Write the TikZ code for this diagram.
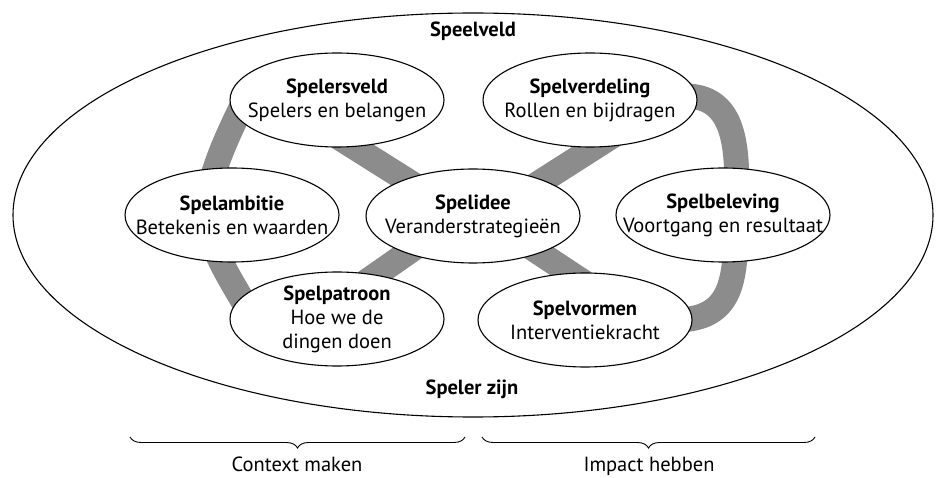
\documentclass[tikz,border=0pt]{standalone}
\usepackage{fontspec}
\setmainfont{PT Sans}
\usetikzlibrary{shapes.geometric,calc,decorations.pathreplacing,positioning}
\definecolor{bandgray}{RGB}{140,140,140}
\pgfdeclarelayer{background}
\pgfsetlayers{background,main}
\newcommand{\txtsize}{\fontsize{20.5}{24}\selectfont}
\tikzset{
  bubble/.style={ellipse, draw, line width=1.1pt, fill=white,
    minimum width=214pt, minimum height=94pt,
    inner xsep=-40pt, inner ysep=-6pt, align=center},
  band/.style={draw=bandgray, line width=25pt},
  fieldtitle/.style={font=\txtsize\bfseries},
  curlybrace/.style={decorate, decoration={brace, amplitude=11pt, mirror}, line width=0.9pt}
}

\begin{document}
\begin{tikzpicture}[x=1pt, y=1pt, every node/.style={font=\txtsize}]
\useasboundingbox (0,0) rectangle (939,477);

% the field
\node[ellipse, draw, line width=1.1pt, minimum width=920pt, minimum height=404pt, inner sep=0pt] (veld) at (473,262) {};
\node[fieldtitle] (speelveld) at (473,446) {Speelveld};
\node[fieldtitle] (spelerzijn) at (472,88) {Speler zijn};

% the six games round the idea
\node[bubble] (spelersveld) at (337,377) {\textbf{Spelersveld}\\Spelers en belangen};
\node[bubble] (spelverdeling) at (590,377) {\textbf{Spelverdeling}\\Rollen en bijdragen};
\node[bubble] (spelambitie) at (232,262) {\textbf{Spelambitie}\\Betekenis en waarden};
\node[bubble] (spelidee) at (473,261) {\textbf{Spelidee}\\Veranderstrategieën};
\node[bubble] (spelbeleving) at (723,262) {\textbf{Spelbeleving}\\Voortgang en resultaat};
\node[bubble] (spelpatroon) at (337,158) {\textbf{Spelpatroon}\\Hoe we de\\dingen doen};
\node[bubble] (spelvormen) at (585,157) {\textbf{Spelvormen}\\Interventiekracht};

% grey bands behind the bubbles
\begin{pgfonlayer}{background}
  \draw[band] ($(spelersveld)+(-37,-13)$) -- ($(spelidee)+(0,-6)$);
  \draw[band] ($(spelidee)+(0,-9)$) -- ($(spelverdeling)+(60,-12)$);
  \draw[band] ($(spelidee)+(0,9)$) -- ($(spelpatroon)+(3,19)$);
  \draw[band] ($(spelidee)+(0,7)$) -- ($(spelvormen)+(15,27)$);
  % left arc
  \draw[band] ($(spelersveld)+(-85,15)$) to[out=245, in=90, distance=40pt] ($(spelambitie)+(-25,3)$)
    to[out=270, in=115, distance=40pt] ($(spelpatroon)+(-79,-10)$);
  % right arc
  \draw[band] ($(spelverdeling)+(95,4)$) to[out=0, in=88, out distance=55pt, in distance=58pt] ($(spelbeleving)+(13,0)$)
    to[out=270, in=0, out distance=62pt, in distance=60pt] ($(spelvormen)+(90,0)$);
\end{pgfonlayer}

% braces underneath
\draw[curlybrace] (130,40) -- (465,40);
\draw[curlybrace] (482,40) -- (815,40);
\node[anchor=base, inner sep=1pt] (context) at (297,6) {Context maken};
\node[anchor=base, inner sep=1pt] (impact) at (649,6) {Impact hebben};

\end{tikzpicture}
\end{document}
